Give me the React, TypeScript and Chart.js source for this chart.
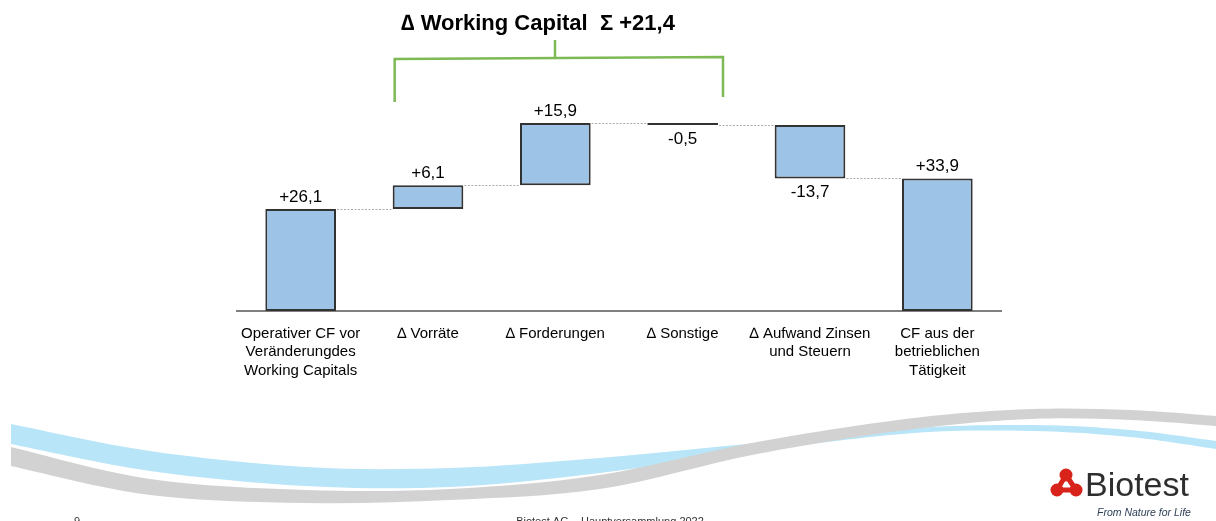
import React, { useEffect, useRef } from "react";
import { Chart, registerables } from "chart.js";

Chart.register(...registerables);

// ---------- data ----------
const categories: string[][] = [
  ["Operativer CF vor", "Veränderungdes", "Working Capitals"],
  ["∆ Vorräte"],
  ["∆ Forderungen"],
  ["∆ Sonstige"],
  ["∆ Aufwand Zinsen", "und Steuern"],
  ["CF aus der", "betrieblichen", "Tätigkeit"],
];
const values: number[] = [26.1, 6.1, 15.9, -0.5, -13.7, 33.9];
const isTotal: boolean[] = [true, false, false, false, false, true];
const yMin = 0;
const yMax = 55;
const titleText = "∆ Working Capital  Σ +21,4";
const footerPage = "9";
const footerText = "Biotest AG – Hauptversammlung 2022";
const logoText = "Biotest";
const logoSlogan = "From Nature for Life";

// ---------- derived floating ranges for the waterfall ----------
const ranges: [number, number][] = [];
{
  let run = 0;
  values.forEach((v, i) => {
    if (isTotal[i]) {
      ranges.push([0, v]);
      run = v;
    } else {
      const end = Math.round((run + v) * 10) / 10;
      ranges.push([run, end]);
      run = end;
    }
  });
}

const fmt = (v: number) => (v > 0 ? "+" : "") + v.toFixed(1).replace(".", ",");

const FONT = "'Liberation Sans', Arial, sans-serif";

// ---------- decorative waves ----------
const blueTop = [[11, 424], [150, 451], [306, 467], [450, 468], [600, 458], [757, 443], [914, 428], [1032, 425], [1130, 430], [1216, 441]];
const blueBottom = [[11, 444], [150, 471], [306, 486], [450, 487], [600, 473], [757, 451], [914, 433], [1032, 431], [1130, 437], [1216, 449]];
const grayTop = [[11, 447], [150, 479], [306, 490], [450, 489], [600, 475], [757, 442], [914, 418], [1032, 409], [1130, 410], [1216, 416]];
const grayBottom = [[11, 466], [150, 495], [306, 503], [450, 500], [600, 489], [757, 454], [914, 429], [1032, 419], [1130, 420], [1216, 426]];

function smooth(ctx: CanvasRenderingContext2D, pts: number[][], move: boolean) {
  if (move) ctx.moveTo(pts[0][0], pts[0][1]);
  else ctx.lineTo(pts[0][0], pts[0][1]);
  for (let i = 0; i < pts.length - 1; i++) {
    const p0 = pts[i - 1] || pts[i];
    const p1 = pts[i];
    const p2 = pts[i + 1];
    const p3 = pts[i + 2] || p2;
    ctx.bezierCurveTo(
      p1[0] + (p2[0] - p0[0]) / 6, p1[1] + (p2[1] - p0[1]) / 6,
      p2[0] - (p3[0] - p1[0]) / 6, p2[1] - (p3[1] - p1[1]) / 6,
      p2[0], p2[1]
    );
  }
}
function band(ctx: CanvasRenderingContext2D, top: number[][], bottom: number[][], color: string) {
  ctx.beginPath();
  smooth(ctx, top, true);
  smooth(ctx, [...bottom].reverse(), false);
  ctx.closePath();
  ctx.fillStyle = color;
  ctx.fill();
}

const decorPlugin = {
  id: "decor",
  beforeDraw(chart: any) {
    const ctx: CanvasRenderingContext2D = chart.ctx;
    ctx.save();
    band(ctx, blueTop, blueBottom, "#B9E5F8");
    band(ctx, grayTop, grayBottom, "#D2D2D2");

    // logo icon
    const red = "#D8231B";
    const pts = [[1066, 475], [1057, 490], [1076, 490]];
    ctx.strokeStyle = red;
    ctx.lineWidth = 5;
    ctx.lineJoin = "round";
    ctx.beginPath();
    ctx.moveTo(pts[0][0], pts[0][1]);
    ctx.lineTo(pts[1][0], pts[1][1]);
    ctx.lineTo(pts[2][0], pts[2][1]);
    ctx.closePath();
    ctx.stroke();
    ctx.fillStyle = red;
    pts.forEach((p) => {
      ctx.beginPath();
      ctx.arc(p[0], p[1], 6.5, 0, Math.PI * 2);
      ctx.fill();
    });
    ctx.fillStyle = "#2E2E2E";
    ctx.font = `34px ${FONT}`;
    ctx.textAlign = "left";
    ctx.textBaseline = "alphabetic";
    ctx.fillText(logoText, 1085, 496);
    ctx.fillStyle = "#2d3f55";
    ctx.font = `italic 10.5px ${FONT}`;
    ctx.fillText(logoSlogan, 1097, 516);

    // footer
    ctx.fillStyle = "#333";
    ctx.font = `11px ${FONT}`;
    ctx.fillText(footerPage, 74, 525);
    ctx.textAlign = "center";
    ctx.fillText(footerText, 610, 525);
    ctx.restore();
  },
  afterDatasetsDraw(chart: any) {
    const ctx: CanvasRenderingContext2D = chart.ctx;
    const y = chart.scales.y;
    const meta = chart.getDatasetMeta(0);
    const bars: any[] = meta.data;
    ctx.save();

    // dotted connectors
    ctx.strokeStyle = "#ABABAB";
    ctx.lineWidth = 1;
    ctx.setLineDash([2, 1.5]);
    for (let i = 0; i < bars.length - 1; i++) {
      const py = Math.round(y.getPixelForValue(ranges[i][1])) + 0.5;
      const x1 = bars[i].x + bars[i].width / 2 + 1;
      const x2 = bars[i + 1].x - bars[i + 1].width / 2 - 1;
      ctx.beginPath();
      ctx.moveTo(x1, py);
      ctx.lineTo(x2, py);
      ctx.stroke();
    }
    ctx.setLineDash([]);

    // value labels
    ctx.fillStyle = "#000";
    ctx.font = `17px ${FONT}`;
    ctx.textAlign = "center";
    ctx.textBaseline = "alphabetic";
    bars.forEach((b: any, i: number) => {
      const top = Math.min(b.y, b.base);
      const bottom = Math.max(b.y, b.base);
      const v = values[i];
      if (v >= 0) ctx.fillText(fmt(v), b.x, top - 7);
      else ctx.fillText(fmt(v), b.x, bottom + 19);
    });

    // bracket for working capital
    const xL = bars[1].x - bars[1].width / 2 + 2;
    const xR = bars[3].x + bars[3].width / 2 + 5;
    ctx.strokeStyle = "#7DB955";
    ctx.lineWidth = 2.5;
    ctx.lineCap = "butt";
    ctx.beginPath();
    ctx.moveTo(xL, 102);
    ctx.lineTo(xL, 59);
    ctx.lineTo(xR, 57);
    ctx.lineTo(xR, 97);
    ctx.stroke();
    ctx.beginPath();
    ctx.moveTo(555, 40);
    ctx.lineTo(555, 58);
    ctx.stroke();

    // title
    ctx.fillStyle = "#000";
    ctx.font = `bold 22px ${FONT}`;
    ctx.textAlign = "center";
    ctx.fillText(titleText, 538, 30);
    ctx.restore();
  },
};

export default function App() {
  const ref = useRef<HTMLCanvasElement | null>(null);
  useEffect(() => {
    if (!ref.current) return;
    const chart = new Chart(ref.current, {
      type: "bar",
      data: {
        labels: categories,
        datasets: [
          {
            data: ranges as any,
            backgroundColor: values.map((v) => (Math.abs(v) < 1 ? "#1A1A1A" : "#9DC3E6")),
            borderColor: "#333333",
            borderWidth: 2,
            borderSkipped: false,
            categoryPercentage: 1,
            barPercentage: 0.555,
          },
        ],
      },
      options: {
        responsive: false,
        animation: false,
        devicePixelRatio: 1,
        layout: { padding: { left: 237, right: 215, top: 96, bottom: 0 } },
        plugins: { legend: { display: false }, tooltip: { enabled: false } },
        scales: {
          x: {
            grid: { display: false, drawTicks: false },
            border: { display: true, color: "#808080", width: 2 },
            ticks: {
              color: "#000",
              font: { family: FONT, size: 15, lineHeight: 1.25 },
              padding: 13,
              autoSkip: false,
              maxRotation: 0,
              minRotation: 0,
            },
            afterFit: (scale: any) => {
              scale.height = 210;
            },
          },
          y: {
            display: false,
            min: yMin,
            max: yMax,
          },
        },
      },
      plugins: [decorPlugin],
    });
    return () => chart.destroy();
  }, []);
  return (
    <canvas
      ref={ref}
      width={1216}
      height={521}
      style={{ position: "absolute", left: 0, top: 0, width: 1216, height: 521 }}
    />
  );
}
